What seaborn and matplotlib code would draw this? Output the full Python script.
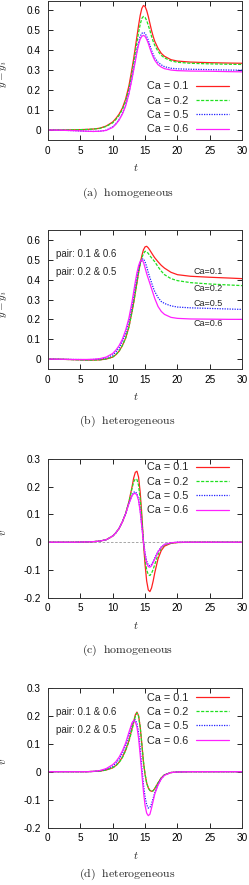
import matplotlib
matplotlib.use("Agg")
import matplotlib.pyplot as plt
import seaborn as sns
import pandas as pd

# time samples
t = [0, 2, 4, 6, 7, 8, 9, 10, 10.5, 11, 11.5, 12, 12.5, 13, 13.25, 13.5, 13.75, 14, 14.25,
     14.5, 14.75, 15, 15.25, 15.5, 15.75, 16, 16.25, 16.5, 17, 17.5, 18, 19, 20, 22, 25, 28, 30]

ca_labels = ["Ca = 0.1", "Ca = 0.2", "Ca = 0.5", "Ca = 0.6"]
ca_short = ["Ca=0.1", "Ca=0.2", "Ca=0.5", "Ca=0.6"]

# (a) y - y_i, homogeneous
a_01 = [0, 0, 0.001, 0.003, 0.005, 0.009, 0.02, 0.04, 0.058, 0.08, 0.11, 0.155, 0.22, 0.31, 0.36, 0.415, 0.47, 0.525, 0.575,
        0.61, 0.625, 0.62, 0.6, 0.57, 0.535, 0.5, 0.47, 0.445, 0.41, 0.385, 0.37, 0.353, 0.346, 0.341, 0.338, 0.336, 0.335]
a_02 = [0, 0, 0.001, 0.003, 0.005, 0.008, 0.018, 0.036, 0.053, 0.074, 0.103, 0.145, 0.205, 0.29, 0.34, 0.39, 0.44, 0.49, 0.53,
        0.56, 0.57, 0.565, 0.55, 0.525, 0.5, 0.47, 0.445, 0.425, 0.395, 0.375, 0.362, 0.347, 0.34, 0.335, 0.332, 0.33, 0.329]
a_05 = [0, -0.001, -0.003, -0.006, -0.007, -0.006, -0.001, 0.016, 0.032, 0.053, 0.083, 0.125, 0.185, 0.265, 0.31, 0.355, 0.4, 0.44, 0.47,
        0.485, 0.49, 0.485, 0.47, 0.45, 0.425, 0.4, 0.38, 0.362, 0.34, 0.327, 0.318, 0.31, 0.307, 0.305, 0.303, 0.301, 0.3]
a_06 = [0, -0.001, -0.003, -0.006, -0.007, -0.006, -0.002, 0.013, 0.029, 0.05, 0.08, 0.12, 0.18, 0.258, 0.302, 0.345, 0.39, 0.428, 0.456,
        0.47, 0.475, 0.47, 0.455, 0.435, 0.41, 0.387, 0.367, 0.35, 0.328, 0.316, 0.308, 0.301, 0.298, 0.296, 0.295, 0.293, 0.292]

# (b) y - y_i, heterogeneous
b_01 = [0, -0.001, -0.003, -0.005, -0.005, -0.004, 0, 0.01, 0.022, 0.04, 0.068, 0.105, 0.16, 0.24, 0.285, 0.335, 0.385, 0.435, 0.48,
        0.52, 0.55, 0.565, 0.568, 0.56, 0.548, 0.535, 0.522, 0.51, 0.49, 0.472, 0.458, 0.437, 0.425, 0.417, 0.412, 0.408, 0.405]
b_02 = [0, -0.001, -0.003, -0.005, -0.005, -0.004, 0, 0.01, 0.022, 0.04, 0.068, 0.105, 0.16, 0.24, 0.285, 0.335, 0.385, 0.435, 0.478,
        0.51, 0.53, 0.543, 0.54, 0.532, 0.52, 0.51, 0.5, 0.49, 0.465, 0.443, 0.425, 0.405, 0.395, 0.385, 0.378, 0.373, 0.37]
b_05 = [0, -0.001, -0.002, -0.003, -0.002, 0, 0.006, 0.02, 0.035, 0.057, 0.088, 0.13, 0.19, 0.27, 0.32, 0.37, 0.415, 0.455, 0.485,
        0.503, 0.505, 0.49, 0.465, 0.435, 0.41, 0.385, 0.36, 0.34, 0.31, 0.29, 0.28, 0.268, 0.262, 0.258, 0.255, 0.252, 0.25]
b_06 = [0, -0.001, -0.002, -0.002, -0.001, 0.002, 0.01, 0.028, 0.045, 0.068, 0.1, 0.145, 0.205, 0.29, 0.34, 0.39, 0.435, 0.47, 0.493,
        0.5, 0.488, 0.46, 0.43, 0.405, 0.38, 0.355, 0.33, 0.305, 0.265, 0.24, 0.225, 0.21, 0.205, 0.202, 0.201, 0.2, 0.2]

# (c) v, homogeneous
c_01 = [0, 0, 0, 0.001, 0.002, 0.004, 0.009, 0.022, 0.034, 0.05, 0.073, 0.103, 0.145, 0.2, 0.232, 0.252, 0.256, 0.235, 0.18,
        0.1, 0.0, -0.08, -0.14, -0.172, -0.178, -0.165, -0.14, -0.11, -0.06, -0.03, -0.014, -0.004, -0.001, 0, 0, 0, 0]
c_02 = [0, 0, 0, 0.001, 0.002, 0.004, 0.009, 0.022, 0.034, 0.05, 0.073, 0.103, 0.143, 0.195, 0.218, 0.228, 0.226, 0.205, 0.155,
        0.085, 0.005, -0.06, -0.1, -0.117, -0.12, -0.112, -0.098, -0.08, -0.045, -0.022, -0.01, -0.003, -0.001, 0, 0, 0, 0]
c_05 = [0, 0, 0, 0.001, 0.002, 0.004, 0.009, 0.022, 0.034, 0.05, 0.073, 0.102, 0.14, 0.17, 0.18, 0.182, 0.175, 0.155, 0.115,
        0.06, 0.005, -0.04, -0.068, -0.082, -0.085, -0.08, -0.07, -0.057, -0.033, -0.017, -0.008, -0.002, 0, 0, 0, 0, 0]
c_06 = [0, 0, 0, 0.001, 0.002, 0.004, 0.009, 0.022, 0.034, 0.05, 0.073, 0.102, 0.138, 0.168, 0.175, 0.176, 0.17, 0.15, 0.11,
        0.055, 0.0, -0.045, -0.075, -0.088, -0.09, -0.085, -0.073, -0.06, -0.035, -0.018, -0.008, -0.002, 0, 0, 0, 0, 0]

# (d) v, heterogeneous
d_01 = [0, 0, 0, 0, 0.001, 0.002, 0.006, 0.014, 0.022, 0.034, 0.052, 0.077, 0.11, 0.155, 0.18, 0.203, 0.213, 0.2, 0.16,
        0.1, 0.035, -0.01, -0.04, -0.058, -0.067, -0.07, -0.068, -0.06, -0.04, -0.022, -0.011, -0.003, -0.001, 0, 0, 0, 0]
d_02 = [0, 0, 0, 0, 0.001, 0.002, 0.006, 0.014, 0.021, 0.033, 0.05, 0.075, 0.107, 0.15, 0.175, 0.198, 0.21, 0.198, 0.16,
        0.1, 0.037, -0.008, -0.04, -0.058, -0.067, -0.07, -0.068, -0.06, -0.04, -0.022, -0.011, -0.003, -0.001, 0, 0, 0, 0]
d_05 = [0, 0, 0, 0, 0.001, 0.003, 0.009, 0.02, 0.03, 0.045, 0.065, 0.093, 0.13, 0.17, 0.183, 0.185, 0.172, 0.14, 0.085,
        0.015, -0.045, -0.09, -0.118, -0.13, -0.128, -0.115, -0.095, -0.075, -0.045, -0.025, -0.012, -0.003, -0.001, 0, 0, 0, 0]
d_06 = [0, 0, 0, 0, 0.001, 0.004, 0.011, 0.025, 0.036, 0.052, 0.074, 0.102, 0.14, 0.175, 0.182, 0.178, 0.16, 0.12, 0.06,
        -0.005, -0.07, -0.12, -0.148, -0.157, -0.152, -0.13, -0.105, -0.08, -0.048, -0.026, -0.013, -0.003, -0.001, 0, 0, 0, 0]

colors = ["#ff2020", "#20e020", "#2020ff", "#ff20ff"]
styles = ["-", (0, (2.5, 1.2)), (0, (1, 1)), "-"]

sns.set_style("ticks")
plt.rcParams["font.family"] = ["Liberation Sans", "DejaVu Sans"]
plt.rcParams["mathtext.fontset"] = "cm"
plt.rcParams["axes.unicode_minus"] = False

W, H = 249, 885
fig = plt.figure(figsize=(W / 100, H / 100), dpi=100)


def px_axes(top, bottom, left=47.8, right=242.3):
    return fig.add_axes([left / W, 1 - bottom / H, (right - left) / W, (bottom - top) / H])


def setup(ax, ylim, yticks, ylabel):
    ax.set_xlim(0, 30)
    ax.set_ylim(*ylim)
    ax.set_xticks(range(0, 31, 5))
    ax.set_yticks(yticks)
    ax.set_yticklabels(["0" if abs(v) < 1e-9 else f"{v:g}" for v in yticks])
    ax.tick_params(direction="in", top=True, right=True, length=3.5, width=0.6,
                   labelsize=7.2, colors="black")
    ax.tick_params(axis="x", pad=4)
    ax.tick_params(axis="y", pad=5)
    for s in ax.spines.values():
        s.set_visible(True)
        s.set_linewidth(0.7)
        s.set_color("#333333")
    ax.set_xlabel("$t$", fontsize=8)
    ax.set_ylabel(ylabel, fontsize=8)
    ax.xaxis.set_label_coords(0.453, -0.2)
    ax.xaxis.label.set_va("center")
    ax.yaxis.set_label_coords(-0.23, 0.47)
    ax.yaxis.label.set_va("center")


def draw(ax, series, with_label=True):
    for vals, lab, c, ls in zip(series, ca_labels, colors, styles):
        df = pd.DataFrame({"t": t, "v": vals})
        sns.lineplot(data=df, x="t", y="v", ax=ax, color=c, linestyle=ls, lw=0.9,
                     label=lab if with_label else None)


leg_kw = dict(frameon=False, markerfirst=False, fontsize=7.8, handlelength=3.1,
              handletextpad=0.7, labelspacing=0.4, borderpad=0, borderaxespad=0)

# (a)
ax = px_axes(0.5, 140)
draw(ax, [a_01, a_02, a_05, a_06])
setup(ax, (-0.05, 0.65), [0, 0.1, 0.2, 0.3, 0.4, 0.5, 0.6], "$y-y_i$")
ax.legend(loc="lower right", bbox_to_anchor=(0.933, 0.04), **leg_kw)

# (b)
ax = px_axes(230, 369)
draw(ax, [b_01, b_02, b_05, b_06], with_label=False)
setup(ax, (-0.05, 0.65), [0, 0.1, 0.2, 0.3, 0.4, 0.5, 0.6], "$y-y_i$")
for lab, yv in zip(ca_short, [0.44, 0.353, 0.281, 0.179]):
    ax.text(22.4, yv, lab, fontsize=6.5, va="center", ha="left")
ax.text(1.2, 0.53, "pair: 0.1 & 0.6", fontsize=7, va="center")
ax.text(1.2, 0.437, "pair: 0.2 & 0.5", fontsize=7, va="center")

# (c)
ax = px_axes(459, 597.7)
ax.axhline(0, color="#999999", lw=0.6, ls=(0, (3, 2)))
draw(ax, [c_01, c_02, c_05, c_06])
setup(ax, (-0.2, 0.3), [-0.2, -0.1, 0, 0.1, 0.2, 0.3], "$v$")
ax.legend(loc="upper right", bbox_to_anchor=(0.933, 0.975), **leg_kw)

# (d)
ax = px_axes(687.7, 827.7)
draw(ax, [d_01, d_02, d_05, d_06])
setup(ax, (-0.2, 0.3), [-0.2, -0.1, 0, 0.1, 0.2, 0.3], "$v$")
ax.legend(loc="upper right", bbox_to_anchor=(0.933, 0.965), **leg_kw)
ax.text(1.2, 0.214, "pair: 0.1 & 0.6", fontsize=7, va="center")
ax.text(1.2, 0.149, "pair: 0.2 & 0.5", fontsize=7, va="center")

# sub-captions
for txt, ypx in [(r"$\mathrm{(a)\ \ homogeneous}$", 193),
                 (r"$\mathrm{(b)\ \ heterogeneous}$", 421),
                 (r"$\mathrm{(c)\ \ homogeneous}$", 650),
                 (r"$\mathrm{(d)\ \ heterogeneous}$", 874.3)]:
    fig.text(127.5 / W, 1 - ypx / H, txt, fontsize=8.5, ha="center", va="center")

fig.savefig("out.png", dpi=100)
